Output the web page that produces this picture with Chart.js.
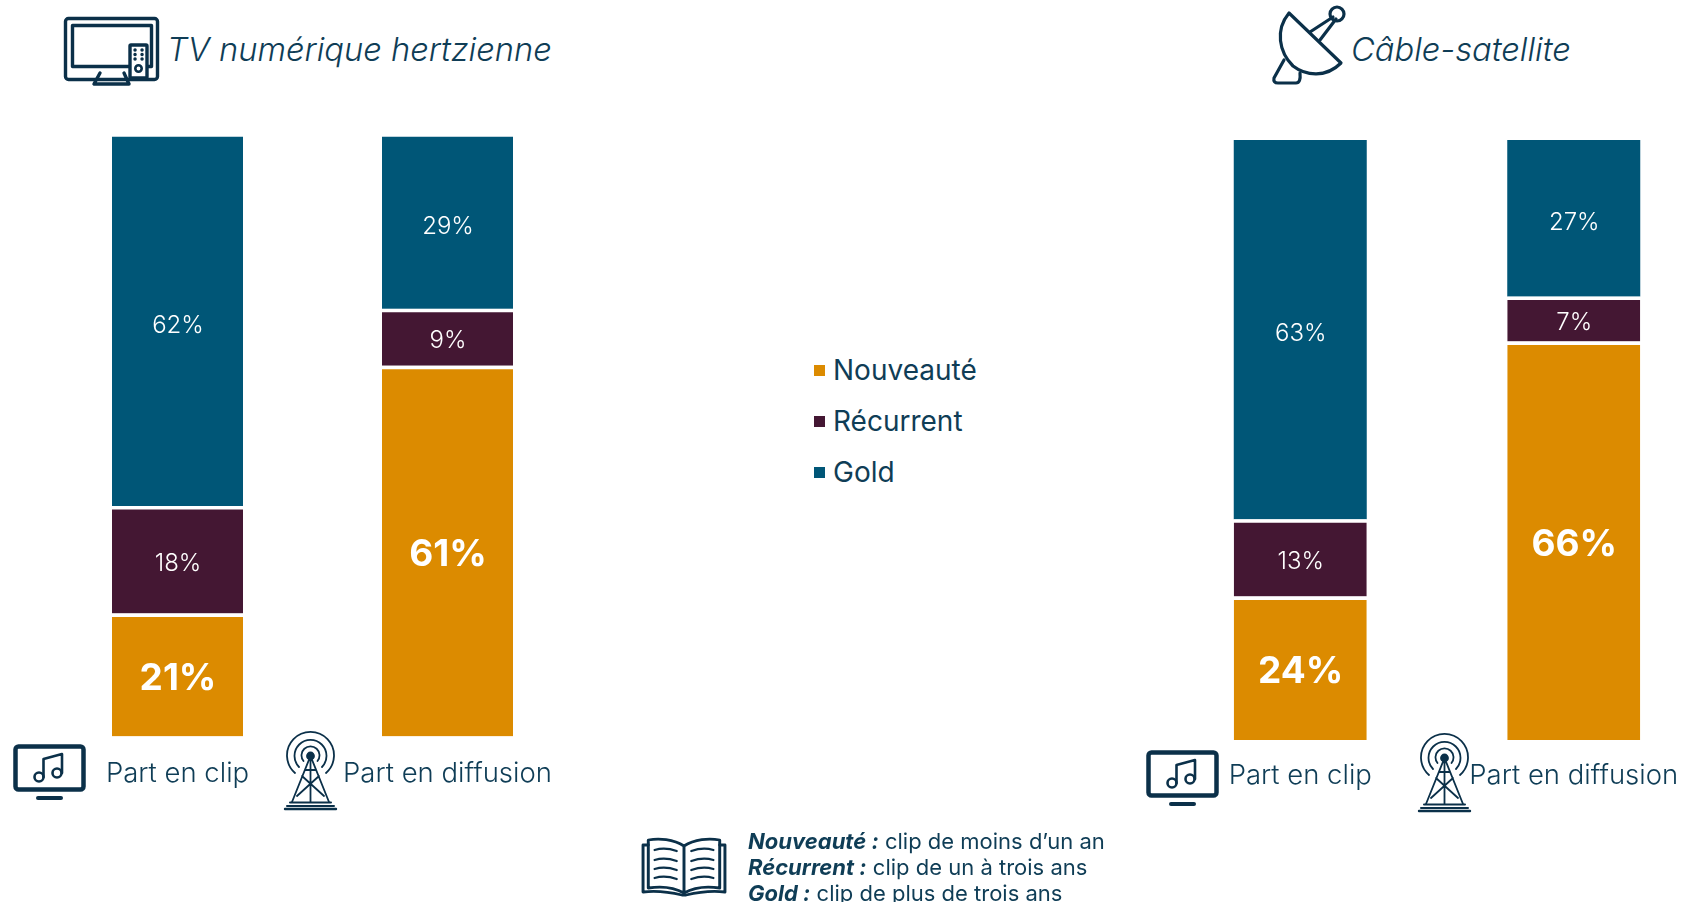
<!DOCTYPE html>
<html lang="fr">
<head>
<meta charset="utf-8">
<title>Part en clip / part en diffusion</title>
<script src="https://cdn.jsdelivr.net/npm/chart.js@4/dist/chart.umd.min.js"></script>
<style>
  html, body { margin: 0; background: #fff; width: 1681px; height: 902px; overflow: hidden; }
  body { position: relative; font-family: Inter, sans-serif; color: #0f3d56; }
  canvas { position: absolute; }
  svg { position: absolute; left: 0; top: 0; }
  .title { position: absolute; font-size: 32.7px; font-style: italic; font-weight: 300; white-space: nowrap; line-height: 40px; }
  #legend { position: absolute; left: 814px; top: 0; }
  .leg { position: absolute; left: 19px; font-size: 28px; line-height: 32px; white-space: nowrap; }
  .leg i { position: absolute; left: -19px; top: 11px; width: 11px; height: 11px; }
  #defs { position: absolute; left: 748px; top: 828px; font-size: 22px; line-height: 26px; white-space: nowrap; }
  #defs b { font-style: italic; }
</style>
</head>
<body>
<div class="title" style="left:167px;top:29px">TV numérique hertzienne</div>
<div class="title" style="left:1351px;top:29px">Câble-satellite</div>
<canvas id="chartHertz" style="left:0;top:0" width="600" height="902"></canvas>
<canvas id="chartCable" style="left:1100px;top:0" width="620" height="902"></canvas>
<div id="legend"></div>
<div id="defs"></div>

<svg width="1681" height="902" fill="none" stroke="#0b3049" stroke-linecap="round" stroke-linejoin="round">
  <defs>
    <g id="clipIcon">
      <rect x="2.5" y="2.5" width="68" height="43" rx="3" stroke-width="4.5"/>
      <path d="M25 54h23" stroke-width="4"/>
      <g stroke-width="2.6">
        <circle cx="26" cy="33" r="4.5"/><circle cx="44" cy="29" r="4.5"/>
        <path d="M30.5 33V15L49 10V29"/>
      </g>
    </g>
    <g id="towerIcon" stroke-width="1.8">
      <circle cx="26.5" cy="24" r="3.5" fill="#0b3049"/>
      <path d="M19.5 29a9 9 0 1 1 14 0M15 35a16 16 0 1 1 23 0M11 41a23.5 23.5 0 1 1 31 0"/>
      <path d="M26.5 24L8 70M26.5 24L45 70M26.5 28V70M21 38h11M18 44L40 64M35 44L13 64"/>
      <path d="M6 70.5h41M3 74h47" stroke-width="2"/>
      <path d="M1 77h51" stroke-width="2.4"/>
    </g>
  </defs>

  <!-- tv + remote -->
  <g stroke-width="3.4">
    <rect x="65.5" y="18.5" width="92" height="61" rx="3"/>
    <rect x="72.5" y="25.5" width="79" height="41"/>
    <path d="M100 73L94 84H129L124 73"/>
    <rect x="130" y="45" width="17" height="33" rx="1" fill="#fff"/>
    <circle cx="138.5" cy="68.5" r="3.2" stroke-width="2.6"/>
    <path d="M135 50h.1M142 50h.1M135 54.5h.1M142 54.5h.1M135 59h.1M142 59h.1"/>
  </g>

  <!-- parabole -->
  <g stroke-width="3.2">
    <path d="M1289 13L1341 63C1326 78 1306 76 1293 66C1279 52 1275 30 1289 13Z"/>
    <path d="M1310 32L1333 17M1320 40L1336 19"/>
    <circle cx="1337" cy="14" r="7"/>
    <path d="M1284 60L1274 78Q1273 83 1278 83H1296Q1301 83 1300 73"/>
  </g>

  <use href="#clipIcon" x="13" y="744"/>
  <use href="#clipIcon" x="1146" y="750"/>
  <use href="#towerIcon" x="284" y="732"/>
  <use href="#towerIcon" x="1418" y="734"/>

  <!-- livre -->
  <g stroke-width="2.8" transform="translate(642 0) scale(1.05 1) translate(-642 0)">
    <path d="M682 846C672 839 658 838 648 840V888C660 886 672 887 682 893C692 887 704 886 716 888V840C706 838 692 839 682 846ZM682 846V893"/>
    <path d="M648 845H643V892Q660 890 680 895H684Q704 890 721 892V845H716"/>
    <path stroke-width="2.2" d="M654 850Q664 847 675 851M654 860Q664 857 675 861M654 869Q664 866 675 870M654 878Q664 875 675 879M689 851Q700 847 710 850M689 861Q700 857 710 860M689 870Q700 866 710 869M689 879Q700 875 710 878"/>
  </g>
</svg>

<script>
const categories = ["Part en clip", "Part en diffusion"];
const seriesNames = ["Nouveauté", "Récurrent", "Gold"];
const seriesColors = ["#dc8b00", "#441733", "#005677"];

// segment heights as measured on the picture
const hertzNouveaute = [20.5, 61.8];
const hertzRecurrent = [17.9, 9.5];
const hertzGold = [61.6, 28.7];

const cableNouveaute = [23.9, 66.4];
const cableRecurrent = [12.9, 7.5];
const cableGold = [63.2, 26.1];

// percentages printed on the bars
const hertzLabels = [[21, 61], [18, 9], [62, 29]];
const cableLabels = [[24, 66], [13, 7], [63, 27]];

const definitions = [
  ["Nouveauté :", "clip de moins d’un an"],
  ["Récurrent :", "clip de un à trois ans"],
  ["Gold :", "clip de plus de trois ans"],
];

const FONT = "Inter, sans-serif";

const valueLabels = {
  id: "valueLabels",
  afterDatasetsDraw(chart) {
    const ctx = chart.ctx;
    ctx.save();
    ctx.fillStyle = "#fff";
    ctx.textAlign = "center";
    ctx.textBaseline = "middle";
    chart.data.datasets.forEach((ds, d) => {
      chart.getDatasetMeta(d).data.forEach((bar, i) => {
        ctx.font = d === 0 ? "700 37px " + FONT : "300 24px " + FONT;
        const mid = (bar.y + bar.base) / 2;
        ctx.fillText(ds.shown[i] + "%", bar.x + 0.5, mid + 4);
      });
    });
    ctx.restore();
  },
};

function drawChart(id, series, labels, opts) {
  return new Chart(document.getElementById(id), {
    type: "bar",
    data: {
      labels: categories,
      datasets: series.map((values, d) => ({
        label: seriesNames[d],
        data: values,
        shown: labels[d],
        backgroundColor: seriesColors[d],
        borderColor: "#fff",
        borderWidth: d < 2 ? { top: 3.5 } : 0,
        borderSkipped: false,
        inflateAmount: 0,
        barThickness: opts.barWidth,
      })),
    },
    options: {
      responsive: false,
      animation: false,
      layout: { padding: { left: opts.left, right: opts.right, top: opts.top, bottom: 0 } },
      plugins: { legend: { display: false }, tooltip: { enabled: false } },
      scales: {
        x: {
          stacked: true,
          grid: { display: false, drawTicks: false },
          border: { display: false },
          afterFit(scale) { scale.height = opts.axisHeight; },
          ticks: {
            color: "#0f3d56",
            font: { family: FONT, size: 27.5, weight: 300 },
            padding: opts.tickPad,
            maxRotation: 0,
            autoSkip: false,
          },
        },
        y: { stacked: true, display: false, min: 0, max: 100 },
      },
    },
    plugins: [valueLabels],
  });
}

drawChart("chartHertz", [hertzNouveaute, hertzRecurrent, hertzGold], hertzLabels,
  { left: 42.5, right: 17.5, top: 136.5, axisHeight: 165.5, barWidth: 131, tickPad: 21 });
drawChart("chartCable", [cableNouveaute, cableRecurrent, cableGold], cableLabels,
  { left: 63.5, right: 9.5, top: 140, axisHeight: 162, barWidth: 133, tickPad: 19.5 });

const legend = document.getElementById("legend");
seriesNames.forEach((name, i) => {
  const row = document.createElement("div");
  row.className = "leg";
  row.style.top = 354 + i * 51 + "px";
  row.innerHTML = '<i style="background:' + seriesColors[i] + '"></i>' + name;
  legend.appendChild(row);
});

document.getElementById("defs").innerHTML = definitions
  .map((d) => "<div><b>" + d[0] + "</b> " + d[1] + "</div>")
  .join("");
</script>
</body>
</html>
